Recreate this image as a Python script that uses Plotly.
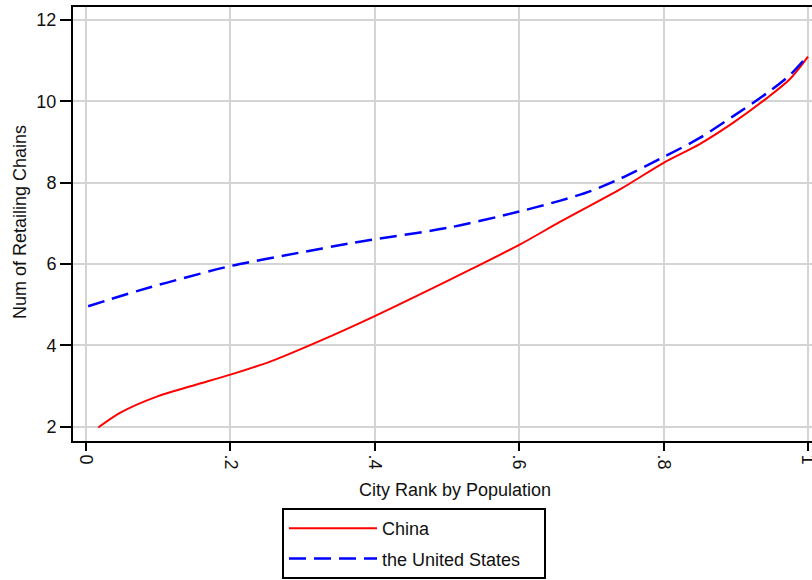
import plotly.graph_objects as go

china_x = [0.017, 0.047, 0.098, 0.15, 0.2, 0.255, 0.324, 0.4, 0.476, 0.532, 0.6, 0.657, 0.74, 0.8, 0.85, 0.896, 0.943, 0.975, 1.0]
china_y = [1.98, 2.34, 2.74, 3.02, 3.28, 3.6, 4.11, 4.72, 5.37, 5.86, 6.47, 7.04, 7.84, 8.49, 8.95, 9.47, 10.08, 10.55, 11.1]

us_x = [0.003, 0.033, 0.089, 0.116, 0.2, 0.296, 0.366, 0.4, 0.504, 0.6, 0.657, 0.7, 0.74, 0.8, 0.85, 0.896, 0.943, 0.975, 1.0]
us_y = [4.96, 5.13, 5.43, 5.56, 5.95, 6.28, 6.51, 6.61, 6.9, 7.29, 7.56, 7.8, 8.1, 8.63, 9.1, 9.63, 10.2, 10.65, 11.13]

x_ticks = [0, 0.2, 0.4, 0.6, 0.8, 1.0]
x_labels = ["0", ".2", ".4", ".6", ".8", "1"]
y_ticks = [2, 4, 6, 8, 10, 12]

FONT = "Liberation Sans, Arial, sans-serif"
TXT = "#111111"

W, H = 812, 580
L, R, T, B = 73, 0, 7, 139
pw, ph = W - L - R, H - T - B


def px_x(p):
    return (p - L) / pw


def px_y(p):
    return (H - B - p) / ph


fig = go.Figure()
fig.add_trace(go.Scatter(x=china_x, y=china_y, mode="lines", name="China",
                         line=dict(color="#ff0000", width=2, shape="spline", smoothing=0.8),
                         legendgroup="a"))
fig.add_trace(go.Scatter(x=us_x, y=us_y, mode="lines", name="the United States",
                         line=dict(color="#0000ff", width=2.5, dash="17px,8px", shape="spline", smoothing=0.8),
                         legendgroup="b"))

anns = [
    dict(text="City Rank by Population", x=px_x(455), y=px_y(490),
         xref="paper", yref="paper", showarrow=False, font=dict(size=18, color=TXT),
         xanchor="center", yanchor="middle"),
    dict(text="Num of Retailing Chains", x=px_x(20), y=px_y(222),
         xref="paper", yref="paper", showarrow=False, font=dict(size=18, color=TXT),
         textangle=-90, xanchor="center", yanchor="middle"),
]

# legend frame (the legend items themselves come from the native legend)
shapes = [
    dict(type="rect", xref="paper", yref="paper",
         x0=px_x(283), x1=px_x(545), y0=px_y(509), y1=px_y(578),
         line=dict(color="black", width=2), fillcolor="rgba(0,0,0,0)", layer="above"),
]

fig.update_layout(
    width=W, height=H,
    margin=dict(l=L, r=R, t=T, b=B, autoexpand=False),
    paper_bgcolor="white", plot_bgcolor="white",
    font=dict(family=FONT, size=18, color=TXT),
    showlegend=True,
    legend=dict(x=px_x(284), y=px_y(510), xanchor="left", yanchor="top",
                borderwidth=0, bgcolor="rgba(0,0,0,0)",
                font=dict(size=18, color=TXT),
                itemwidth=88, tracegroupgap=4, traceorder="grouped"),
    annotations=anns,
    shapes=shapes,
)

fig.update_xaxes(range=[-0.018, 1.0055], tickmode="array", tickvals=x_ticks, ticktext=x_labels,
                 tickangle=90, ticks="outside", ticklen=8, tickwidth=2, tickcolor="black",
                 showline=True, linecolor="black", linewidth=2, mirror=True,
                 showgrid=True, gridcolor="#d4d4d4", gridwidth=2, zeroline=False,
                 tickfont=dict(size=18, color=TXT), automargin=False,
                 ticklabeloverflow="allow")
fig.update_yaxes(range=[1.648, 12.32], tickmode="array", tickvals=y_ticks,
                 ticks="outside", ticklen=11, tickwidth=2, tickcolor="black",
                 showline=True, linecolor="black", linewidth=2,
                 showgrid=True, gridcolor="#d4d4d4", gridwidth=2, zeroline=False,
                 tickfont=dict(size=18, color=TXT), automargin=False)

fig.write_html("out.html", config={"displayModeBar": False},
               post_script="document.body.style.margin='0';document.body.style.overflow='hidden';")
